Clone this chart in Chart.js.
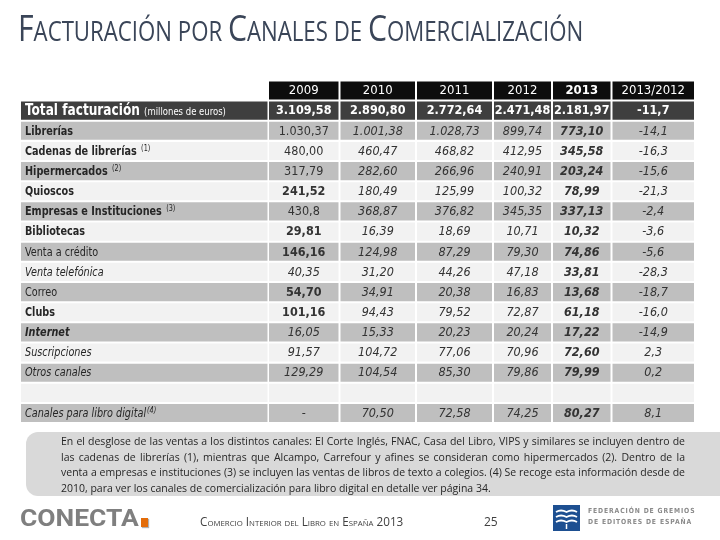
<!DOCTYPE html>
<html><head><meta charset="utf-8">
<script src="https://cdn.jsdelivr.net/npm/chart.js@4/dist/chart.umd.min.js"></script>
<style>
html,body{margin:0;padding:0;background:#fff;}
#wrap{position:relative;width:720px;height:540px;overflow:hidden;background:#fff;}
#c{position:absolute;left:0;top:0;}
.abs{position:absolute;white-space:nowrap;transform-origin:0 0;}
#title{left:18px;top:8px;font-family:"Open Sans",sans-serif;color:#3a4558;font-size:26.5px;line-height:40px;}
#title .big{font-size:36px;}
#noteBox{position:absolute;left:26px;top:432px;width:720px;height:64px;background:#d9d9d9;border-radius:12px 0 0 12px;}
#note{left:61px;top:433px;font-family:"Open Sans",sans-serif;font-size:11px;color:#262626;line-height:15.6px;}
#note div{white-space:nowrap;}
#conecta{left:20px;top:503px;font-family:Roboto,sans-serif;font-weight:700;font-size:24px;color:#7f7f7f;line-height:30px;}
#sq{position:absolute;left:141px;top:518px;width:7px;height:9px;background:#e36c09;box-shadow:1px 1px 1px #b0b0b0;}
#pub{left:200px;top:514px;font-family:"Open Sans",sans-serif;font-variant:small-caps;font-size:12px;color:#404040;line-height:16px;}
#page{left:484px;top:514px;font-family:"Open Sans",sans-serif;font-size:12px;color:#404040;line-height:16px;}
#fed{left:588px;top:506px;font-family:"DejaVu Sans",sans-serif;font-weight:700;font-size:7px;letter-spacing:1px;color:#8a8a8a;line-height:11px;}
#logo{position:absolute;left:553px;top:505px;}
</style></head>
<body><div id="wrap">
<canvas id="c" width="720" height="540"></canvas>
<div id="title" class="abs fit" data-w="565"><span class="big">F</span>ACTURACIÓN POR <span class="big">C</span>ANALES DE <span class="big">C</span>OMERCIALIZACIÓN</div>
<div id="noteBox"></div>
<div id="note" class="abs">
<div class="j">En el desglose de las ventas a los distintos canales: El Corte Inglés, FNAC, Casa del Libro, VIPS y similares se incluyen dentro de</div>
<div class="j">las cadenas de librerías (1), mientras que Alcampo, Carrefour y afines se consideran como hipermercados (2). Dentro de la</div>
<div class="j">venta a empresas e instituciones (3) se incluyen las ventas de libros de texto a colegios. (4) Se recoge esta información desde de</div>
<div>2010, para ver los canales de comercialización para libro digital en detalle ver página 34.</div>
</div>
<div id="conecta" class="abs fit" data-w="119">CONECTA</div>
<div id="sq"></div>
<div id="pub" class="abs fit" data-w="203">Comercio Interior del Libro en España 2013</div>
<div id="page" class="abs">25</div>
<svg id="logo" width="27" height="26" viewBox="0 0 27 26">
<rect width="27" height="26" fill="#1d4f91"/>
<path d="M3 7 Q8 4 13.5 7 Q19 4 24 7" stroke="#fff" stroke-width="1.8" fill="none"/>
<path d="M3 12 Q8 9 13.5 12 Q19 9 24 12" stroke="#fff" stroke-width="1.8" fill="none"/>
<path d="M3 17 Q8 14 13.5 17 Q19 14 24 17" stroke="#fff" stroke-width="1.8" fill="none"/>
<path d="M13.5 19 L13.5 24" stroke="#fff" stroke-width="1.5"/>
</svg>
<div id="fed" class="abs fit" data-w="107">FEDERACIÓN DE GREMIOS<br>DE EDITORES DE ESPAÑA</div>
</div>
<script>
// ---------- DATA ----------
const columnHeaders = ['2009', '2010', '2011', '2012', '2013', '2013/2012'];
const totalLabel = 'Total facturación';
const totalUnit = '(millones de euros)';
const channelNames = ['Librerías', 'Cadenas de librerías', 'Hipermercados', 'Quioscos',
  'Empresas e Instituciones', 'Bibliotecas', 'Venta a crédito', 'Venta telefónica', 'Correo',
  'Clubs', 'Internet', 'Suscripciones', 'Otros canales'];
const channelNotes = ['', '(1)', '(2)', '', '(3)', '', '', '', '', '', '', '', ''];
const digitalLabel = 'Canales para libro digital';
const digitalNote = '(4)';
// values: [total, 13 channels..., digital]
const v2009 = [3109.58, 1030.37, 480.00, 317.79, 241.52, 430.8, 29.81, 146.16, 40.35, 54.70, 101.16, 16.05, 91.57, 129.29, null];
const v2010 = [2890.80, 1001.38, 460.47, 282.60, 180.49, 368.87, 16.39, 124.98, 31.20, 34.91, 94.43, 15.33, 104.72, 104.54, 70.50];
const v2011 = [2772.64, 1028.73, 468.82, 266.96, 125.99, 376.82, 18.69, 87.29, 44.26, 20.38, 79.52, 20.23, 77.06, 85.30, 72.58];
const v2012 = [2471.48, 899.74, 412.95, 240.91, 100.32, 345.35, 10.71, 79.30, 47.18, 16.83, 72.87, 20.24, 70.96, 79.86, 74.25];
const v2013 = [2181.97, 773.10, 345.58, 203.24, 78.99, 337.13, 10.32, 74.86, 33.81, 13.68, 61.18, 17.22, 72.60, 79.99, 80.27];
const change1312 = [-11.7, -14.1, -16.3, -15.6, -21.3, -2.4, -3.6, -5.6, -28.3, -18.7, -16.0, -14.9, 2.3, 0.2, 8.1];
const decimals2009 = [2, 2, 2, 2, 2, 1, 2, 2, 2, 2, 2, 2, 2, 2, 2];

// ---------- STYLE / LAYOUT ----------
const FF = '"DejaVu Sans Condensed","DejaVu Sans",sans-serif';
const labelStyles = ['bold', 'bold', 'bold', 'bold', 'bold', 'bold', 'bold', 'normal', 'italic', 'normal', 'bold', 'bold italic', 'italic', 'italic', 'italic'];
const style2009 = ['bold', 'normal', 'normal', 'normal', 'bold', 'normal', 'bold', 'bold', 'italic', 'bold', 'bold', 'italic', 'italic', 'italic', 'normal'];
const colEdges = [[21, 267.5], [269, 338.5], [340.5, 415], [417, 492], [494, 551], [553, 610.5], [612.5, 694]];
const C_HEAD = '#0d0d0d', C_TOTAL = '#3f3f3f', C_GRAY = '#bfbfbf', C_LIGHT = '#f2f2f2';

// rows: header, total, 13 channels, blank, digital
const rowKeys = ['header', 'total'].concat(channelNames.map((_, i) => 'ch' + i), ['blank', 'digital']);
const valueIndex = rowKeys.map((k, i) => k === 'header' || k === 'blank' ? -1 : (k === 'digital' ? 14 : i - 1));
const yearCols = [v2009, v2010, v2011, v2012, v2013, change1312];

function rowColor(i) {
  if (i === 0) return C_HEAD;
  if (i === 1) return C_TOTAL;
  return ((i - 2) % 2 === 0) ? C_GRAY : C_LIGHT;
}
function fmt(v, d) {
  if (v === null || v === undefined) return '-';
  const neg = v < 0;
  let s = Math.abs(v).toFixed(d);
  let parts = s.split('.');
  let ip = parts[0].replace(/\B(?=(\d{3})+(?!\d))/g, '.');
  return (neg ? '-' : '') + ip + (parts[1] ? ',' + parts[1] : '');
}

const datasets = colEdges.map((edge, c) => ({
  data: rowKeys.map((k, i) => (i === 0 && c === 0) ? null : edge),
  backgroundColor: rowKeys.map((k, i) => rowColor(i)),
  grouped: false,
  barPercentage: 0.9,
  categoryPercentage: 1,
  borderWidth: 0
}));

function squeezeText(ctx, txt, x, y, sx) {
  ctx.save();
  ctx.translate(x, y);
  ctx.scale(sx, 1);
  ctx.fillText(txt, 0, 0);
  ctx.restore();
  return ctx.measureText(txt).width * sx;
}

const tableText = {
  id: 'tableText',
  afterDatasetsDraw(chart) {
    const ctx = chart.ctx, xs = chart.scales.x, ys = chart.scales.y;
    ctx.save();
    ctx.textBaseline = 'middle';
    rowKeys.forEach((key, i) => {
      const y = ys.getPixelForValue(i) + 0.5;
      const vi = valueIndex[i];
      // label column
      ctx.textAlign = 'left';
      const lx = xs.getPixelForValue(colEdges[0][0]) + 4;
      if (key === 'total') {
        ctx.fillStyle = '#ffffff';
        ctx.font = 'bold 15px ' + FF;
        const w = squeezeText(ctx, totalLabel + ' ', lx, y, 0.9);
        ctx.font = '10.5px ' + FF;
        squeezeText(ctx, totalUnit, lx + w, y + 1, 0.9);
      } else if (vi >= 0) {
        const name = key === 'digital' ? digitalLabel : channelNames[vi - 1];
        const note = key === 'digital' ? digitalNote : channelNotes[vi - 1];
        ctx.fillStyle = '#262626';
        ctx.font = labelStyles[vi] + ' 12.5px ' + FF;
        const w = squeezeText(ctx, name + (key === 'digital' ? '' : ' '), lx, y, 0.86);
        if (note) {
          ctx.font = (key === 'digital' ? 'italic ' : '') + '8px ' + FF;
          squeezeText(ctx, note, lx + w + 1, y - 3, 0.9);
        }
      }
      // value columns
      ctx.textAlign = 'center';
      for (let c = 0; c < 6; c++) {
        const cx = xs.getPixelForValue((colEdges[c + 1][0] + colEdges[c + 1][1]) / 2);
        if (key === 'header') {
          ctx.fillStyle = '#ffffff';
          ctx.font = (c === 4 ? 'bold ' : '') + '13px ' + FF;
          ctx.fillText(columnHeaders[c], cx, y);
          continue;
        }
        if (vi < 0) continue;
        const v = yearCols[c][vi];
        const d = c === 5 ? 1 : (c === 0 ? decimals2009[vi] : 2);
        let st;
        if (key === 'total') { st = 'bold'; ctx.fillStyle = '#ffffff'; }
        else {
          ctx.fillStyle = '#333333';
          st = c === 0 ? style2009[vi] : (c === 4 ? 'bold italic' : 'italic');
        }
        ctx.font = st + ' 12.5px ' + FF;
        ctx.fillText(fmt(v, d), cx, y);
      }
    });
    ctx.restore();
  }
};

new Chart(document.getElementById('c'), {
  type: 'bar',
  data: { labels: rowKeys, datasets: datasets },
  options: {
    indexAxis: 'y',
    responsive: false,
    animation: false,
    devicePixelRatio: 1,
    layout: { padding: { top: 80.4, bottom: 116.9, left: 0, right: 0 } },
    scales: {
      x: { type: 'linear', min: 0, max: 720, display: false },
      y: { type: 'category', display: false, offset: true }
    },
    plugins: { legend: { display: false }, tooltip: { enabled: false } }
  },
  plugins: [tableText]
});

// fit decorative text widths (offsetWidth ignores transforms)
function fitAll() {
  document.querySelectorAll('.fit').forEach(el => {
    el.style.display = 'inline-block';
    const w = el.offsetWidth;
    const target = parseFloat(el.dataset.w);
    el.style.transform = 'scaleX(' + (target / w) + ')';
  });
  const note = document.getElementById('note');
  const lines = Array.from(note.children);
  let maxW = 0;
  lines.forEach(l => {
    l.style.width = '';
    l.style.whiteSpace = 'nowrap';
    l.style.textAlign = 'left';
    l.style.textAlignLast = 'auto';
    l.style.display = 'inline-block';
    maxW = Math.max(maxW, l.offsetWidth);
  });
  const W = maxW + 2;
  lines.forEach(l => {
    l.style.display = 'block';
    l.style.width = W + 'px';
    if (l.classList.contains('j')) {
      l.style.whiteSpace = 'normal';
      l.style.textAlign = 'justify';
      l.style.textAlignLast = 'justify';
    }
  });
  note.style.width = W + 'px';
  note.style.transform = 'scaleX(' + (624 / W) + ')';
}
fitAll();
if (document.fonts && document.fonts.ready) document.fonts.ready.then(fitAll);
</script>
</body></html>
